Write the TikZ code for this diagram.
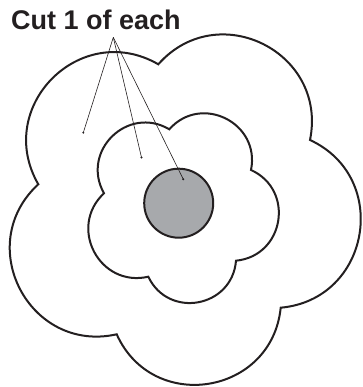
\documentclass[tikz,border=0pt]{standalone}
\usepackage{fontspec}
\setmainfont{Liberation Sans}
\definecolor{inkblack}{RGB}{35,31,32}
\definecolor{discgray}{RGB}{167,169,172}

\begin{document}
\begin{tikzpicture}[x=1pt,y=1pt,inkblack,
    petal/.style={bend right=75,looseness=1.35},
    outline/.style={line width=2pt},
    dot/.style={circle,fill,inner sep=0pt,minimum size=2.2pt},
    leader/.style={line width=0.6pt}]
    \useasboundingbox (0,0) rectangle (362,387);

    % outer flower
    \coordinate (oA) at (158.3,322.7);
    \coordinate (oB) at (310,247);
    \coordinate (oC) at (280.7,79.3);
    \coordinate (oD) at (116.7,52.7);
    \coordinate (oE) at (38.3,202.7);
    \draw[outline] (oB) to[petal] (oA) to[petal] (oE) to[petal] (oD)
        to[petal] (oC) to[petal] cycle;

    % inner flower
    \coordinate (iA) at (169.3,257.7);
    \coordinate (iB) at (251,217);
    \coordinate (iC) at (236,126.3);
    \coordinate (iD) at (148.3,110.3);
    \coordinate (iE) at (104,193.7);
    \draw[outline] (iB) to[petal] (iA) to[petal] (iE) to[petal] (iD)
        to[petal] (iC) to[petal] cycle;

    % centre
    \node[circle,draw,outline,fill=discgray,inner sep=0pt,minimum size=69pt] (disc) at (178.7,183.8) {};

    \node[anchor=base west,inner sep=0pt,font=\bfseries\fontsize{27}{27}\selectfont] (cut) at (11,357.7) {Cut 1 of each};
    \coordinate (apex) at (113.3,349.7);

    \node[dot] (p1) at (83.3,254.3) {};
    \node[dot] (p2) at (141.5,229.5) {};
    \node[dot] (p3) at (183.3,207.7) {};
    \draw[leader] (apex) -- (p1.center);
    \draw[leader] (apex) -- (p2.center);
    \draw[leader] (apex) -- (p3.center);
\end{tikzpicture}
\end{document}
